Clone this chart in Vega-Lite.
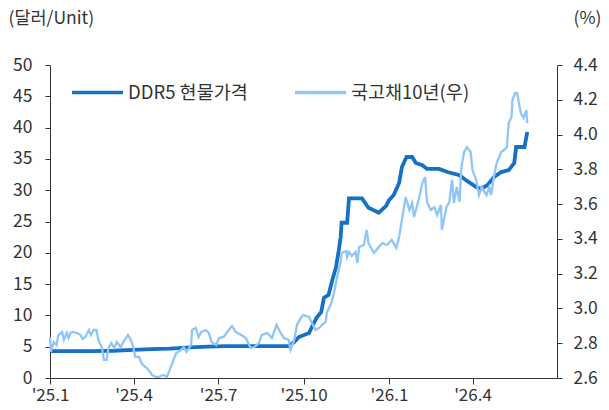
{
  "$schema": "https://vega.github.io/schema/vega-lite/v6.json",
  "width": 507,
  "height": 313,
  "autosize": "none",
  "padding": {"left": 50, "top": 65, "right": 52, "bottom": 32},
  "background": "white",
  "config": {
    "view": {"stroke": null},
    "font": "Noto Sans CJK KR",
    "axis": {"grid": false, "domainColor": "#333", "tickColor": "#333", "labelColor": "#333", "titleColor": "#333", "labelFont": "Noto Sans CJK KR", "titleFont": "Noto Sans CJK KR"}
  },
  "data": {
    "values": [
      {"date": "2025-01-01", "series": "DDR5 현물가격", "value": 4.3},
      {"date": "2025-01-20", "series": "DDR5 현물가격", "value": 4.3},
      {"date": "2025-02-15", "series": "DDR5 현물가격", "value": 4.3},
      {"date": "2025-03-10", "series": "DDR5 현물가격", "value": 4.35},
      {"date": "2025-04-01", "series": "DDR5 현물가격", "value": 4.5},
      {"date": "2025-04-20", "series": "DDR5 현물가격", "value": 4.6},
      {"date": "2025-05-10", "series": "DDR5 현물가격", "value": 4.7},
      {"date": "2025-06-01", "series": "DDR5 현물가격", "value": 4.9},
      {"date": "2025-06-20", "series": "DDR5 현물가격", "value": 5.0},
      {"date": "2025-07-10", "series": "DDR5 현물가격", "value": 5.1},
      {"date": "2025-08-01", "series": "DDR5 현물가격", "value": 5.1},
      {"date": "2025-08-20", "series": "DDR5 현물가격", "value": 5.1},
      {"date": "2025-09-15", "series": "DDR5 현물가격", "value": 5.1},
      {"date": "2025-09-21", "series": "DDR5 현물가격", "value": 5.75},
      {"date": "2025-09-26", "series": "DDR5 현물가격", "value": 6.55},
      {"date": "2025-10-07", "series": "DDR5 현물가격", "value": 7.2},
      {"date": "2025-10-10", "series": "DDR5 현물가격", "value": 8.15},
      {"date": "2025-10-15", "series": "DDR5 현물가격", "value": 9.6},
      {"date": "2025-10-20", "series": "DDR5 현물가격", "value": 10.5},
      {"date": "2025-10-23", "series": "DDR5 현물가격", "value": 12.8},
      {"date": "2025-10-28", "series": "DDR5 현물가격", "value": 13.3},
      {"date": "2025-11-01", "series": "DDR5 현물가격", "value": 15.6},
      {"date": "2025-11-05", "series": "DDR5 현물가격", "value": 17.7},
      {"date": "2025-11-08", "series": "DDR5 현물가격", "value": 20.4},
      {"date": "2025-11-10", "series": "DDR5 현물가격", "value": 22.5},
      {"date": "2025-11-11", "series": "DDR5 현물가격", "value": 24.8},
      {"date": "2025-11-17", "series": "DDR5 현물가격", "value": 24.8},
      {"date": "2025-11-19", "series": "DDR5 현물가격", "value": 28.7},
      {"date": "2025-12-03", "series": "DDR5 현물가격", "value": 28.7},
      {"date": "2025-12-10", "series": "DDR5 현물가격", "value": 27.2},
      {"date": "2025-12-21", "series": "DDR5 현물가격", "value": 26.4},
      {"date": "2025-12-29", "series": "DDR5 현물가격", "value": 27.5},
      {"date": "2026-01-01", "series": "DDR5 현물가격", "value": 28.4},
      {"date": "2026-01-06", "series": "DDR5 현물가격", "value": 29.2},
      {"date": "2026-01-10", "series": "DDR5 현물가격", "value": 30.5},
      {"date": "2026-01-12", "series": "DDR5 현물가격", "value": 31.2},
      {"date": "2026-01-15", "series": "DDR5 현물가격", "value": 33.7},
      {"date": "2026-01-20", "series": "DDR5 현물가격", "value": 35.3},
      {"date": "2026-01-26", "series": "DDR5 현물가격", "value": 35.3},
      {"date": "2026-01-30", "series": "DDR5 현물가격", "value": 34.35},
      {"date": "2026-02-06", "series": "DDR5 현물가격", "value": 34.0},
      {"date": "2026-02-11", "series": "DDR5 현물가격", "value": 33.4},
      {"date": "2026-02-24", "series": "DDR5 현물가격", "value": 33.4},
      {"date": "2026-03-05", "series": "DDR5 현물가격", "value": 32.9},
      {"date": "2026-03-18", "series": "DDR5 현물가격", "value": 32.4},
      {"date": "2026-03-25", "series": "DDR5 현물가격", "value": 31.6},
      {"date": "2026-04-05", "series": "DDR5 현물가격", "value": 30.5},
      {"date": "2026-04-10", "series": "DDR5 현물가격", "value": 30.2},
      {"date": "2026-04-17", "series": "DDR5 현물가격", "value": 30.8},
      {"date": "2026-04-24", "series": "DDR5 현물가격", "value": 32.1},
      {"date": "2026-05-02", "series": "DDR5 현물가격", "value": 32.9},
      {"date": "2026-05-10", "series": "DDR5 현물가격", "value": 33.2},
      {"date": "2026-05-16", "series": "DDR5 현물가격", "value": 34.35},
      {"date": "2026-05-18", "series": "DDR5 현물가격", "value": 36.9},
      {"date": "2026-05-27", "series": "DDR5 현물가격", "value": 36.9},
      {"date": "2026-05-30", "series": "DDR5 현물가격", "value": 39.3},

      {"date": "2025-01-01", "series": "국고채10년(우)", "value": 2.836},
      {"date": "2025-01-02", "series": "국고채10년(우)", "value": 2.75},
      {"date": "2025-01-05", "series": "국고채10년(우)", "value": 2.807},
      {"date": "2025-01-08", "series": "국고채10년(우)", "value": 2.79},
      {"date": "2025-01-10", "series": "국고채10년(우)", "value": 2.847},
      {"date": "2025-01-14", "series": "국고채10년(우)", "value": 2.865},
      {"date": "2025-01-16", "series": "국고채10년(우)", "value": 2.819},
      {"date": "2025-01-19", "series": "국고채10년(우)", "value": 2.859},
      {"date": "2025-01-21", "series": "국고채10년(우)", "value": 2.83},
      {"date": "2025-01-23", "series": "국고채10년(우)", "value": 2.859},
      {"date": "2025-01-26", "series": "국고채10년(우)", "value": 2.865},
      {"date": "2025-01-30", "series": "국고채10년(우)", "value": 2.859},
      {"date": "2025-02-03", "series": "국고채10년(우)", "value": 2.847},
      {"date": "2025-02-05", "series": "국고채10년(우)", "value": 2.824},
      {"date": "2025-02-08", "series": "국고채10년(우)", "value": 2.836},
      {"date": "2025-02-12", "series": "국고채10년(우)", "value": 2.876},
      {"date": "2025-02-14", "series": "국고채10년(우)", "value": 2.847},
      {"date": "2025-02-17", "series": "국고채10년(우)", "value": 2.876},
      {"date": "2025-02-20", "series": "국고채10년(우)", "value": 2.876},
      {"date": "2025-02-22", "series": "국고채10년(우)", "value": 2.819},
      {"date": "2025-02-26", "series": "국고채10년(우)", "value": 2.773},
      {"date": "2025-02-28", "series": "국고채10년(우)", "value": 2.704},
      {"date": "2025-03-03", "series": "국고채10년(우)", "value": 2.704},
      {"date": "2025-03-05", "series": "국고채10년(우)", "value": 2.773},
      {"date": "2025-03-08", "series": "국고채10년(우)", "value": 2.801},
      {"date": "2025-03-11", "series": "국고채10년(우)", "value": 2.773},
      {"date": "2025-03-14", "series": "국고채10년(우)", "value": 2.807},
      {"date": "2025-03-18", "series": "국고채10년(우)", "value": 2.778},
      {"date": "2025-03-21", "series": "국고채10년(우)", "value": 2.807},
      {"date": "2025-03-26", "series": "국고채10년(우)", "value": 2.847},
      {"date": "2025-03-29", "series": "국고채10년(우)", "value": 2.819},
      {"date": "2025-03-31", "series": "국고채10년(우)", "value": 2.79},
      {"date": "2025-04-03", "series": "국고채10년(우)", "value": 2.721},
      {"date": "2025-04-07", "series": "국고채10년(우)", "value": 2.721},
      {"date": "2025-04-09", "series": "국고채10년(우)", "value": 2.692},
      {"date": "2025-04-11", "series": "국고채10년(우)", "value": 2.675},
      {"date": "2025-04-14", "series": "국고채10년(우)", "value": 2.663},
      {"date": "2025-04-17", "series": "국고채10년(우)", "value": 2.646},
      {"date": "2025-04-21", "series": "국고채10년(우)", "value": 2.617},
      {"date": "2025-04-25", "series": "국고채10년(우)", "value": 2.606},
      {"date": "2025-04-28", "series": "국고채10년(우)", "value": 2.606},
      {"date": "2025-05-03", "series": "국고채10년(우)", "value": 2.617},
      {"date": "2025-05-07", "series": "국고채10년(우)", "value": 2.606},
      {"date": "2025-05-11", "series": "국고채10년(우)", "value": 2.663},
      {"date": "2025-05-14", "series": "국고채10년(우)", "value": 2.704},
      {"date": "2025-05-17", "series": "국고채10년(우)", "value": 2.744},
      {"date": "2025-05-22", "series": "국고채10년(우)", "value": 2.761},
      {"date": "2025-05-25", "series": "국고채10년(우)", "value": 2.778},
      {"date": "2025-05-28", "series": "국고채10년(우)", "value": 2.75},
      {"date": "2025-06-02", "series": "국고채10년(우)", "value": 2.79},
      {"date": "2025-06-03", "series": "국고채10년(우)", "value": 2.876},
      {"date": "2025-06-07", "series": "국고채10년(우)", "value": 2.888},
      {"date": "2025-06-10", "series": "국고채10년(우)", "value": 2.836},
      {"date": "2025-06-13", "series": "국고채10년(우)", "value": 2.865},
      {"date": "2025-06-18", "series": "국고채10년(우)", "value": 2.876},
      {"date": "2025-06-21", "series": "국고채10년(우)", "value": 2.859},
      {"date": "2025-06-24", "series": "국고채10년(우)", "value": 2.807},
      {"date": "2025-06-29", "series": "국고채10년(우)", "value": 2.79},
      {"date": "2025-07-02", "series": "국고채10년(우)", "value": 2.83},
      {"date": "2025-07-07", "series": "국고채10년(우)", "value": 2.836},
      {"date": "2025-07-10", "series": "국고채10년(우)", "value": 2.859},
      {"date": "2025-07-16", "series": "국고채10년(우)", "value": 2.899},
      {"date": "2025-07-20", "series": "국고채10년(우)", "value": 2.865},
      {"date": "2025-07-26", "series": "국고채10년(우)", "value": 2.847},
      {"date": "2025-07-31", "series": "국고채10년(우)", "value": 2.83},
      {"date": "2025-08-05", "series": "국고채10년(우)", "value": 2.773},
      {"date": "2025-08-09", "series": "국고채10년(우)", "value": 2.778},
      {"date": "2025-08-14", "series": "국고채10년(우)", "value": 2.801},
      {"date": "2025-08-17", "series": "국고채10년(우)", "value": 2.847},
      {"date": "2025-08-23", "series": "국고채10년(우)", "value": 2.859},
      {"date": "2025-08-28", "series": "국고채10년(우)", "value": 2.83},
      {"date": "2025-09-02", "series": "국고채10년(우)", "value": 2.905},
      {"date": "2025-09-07", "series": "국고채10년(우)", "value": 2.853},
      {"date": "2025-09-10", "series": "국고채10년(우)", "value": 2.83},
      {"date": "2025-09-15", "series": "국고채10년(우)", "value": 2.819},
      {"date": "2025-09-17", "series": "국고채10년(우)", "value": 2.761},
      {"date": "2025-09-21", "series": "국고채10년(우)", "value": 2.819},
      {"date": "2025-09-24", "series": "국고채10년(우)", "value": 2.905},
      {"date": "2025-09-28", "series": "국고채10년(우)", "value": 2.945},
      {"date": "2025-10-01", "series": "국고채10년(우)", "value": 2.962},
      {"date": "2025-10-07", "series": "국고채10년(우)", "value": 2.951},
      {"date": "2025-10-10", "series": "국고채10년(우)", "value": 2.916},
      {"date": "2025-10-14", "series": "국고채10년(우)", "value": 2.876},
      {"date": "2025-10-18", "series": "국고채10년(우)", "value": 2.888},
      {"date": "2025-10-21", "series": "국고채10년(우)", "value": 2.905},
      {"date": "2025-10-25", "series": "국고채10년(우)", "value": 2.922},
      {"date": "2025-10-26", "series": "국고채10년(우)", "value": 2.974},
      {"date": "2025-10-31", "series": "국고채10년(우)", "value": 3.031},
      {"date": "2025-11-03", "series": "국고채10년(우)", "value": 3.095},
      {"date": "2025-11-06", "series": "국고채10년(우)", "value": 3.175},
      {"date": "2025-11-10", "series": "국고채10년(우)", "value": 3.267},
      {"date": "2025-11-11", "series": "국고채10년(우)", "value": 3.319},
      {"date": "2025-11-16", "series": "국고채10년(우)", "value": 3.33},
      {"date": "2025-11-17", "series": "국고채10년(우)", "value": 3.296},
      {"date": "2025-11-19", "series": "국고채10년(우)", "value": 3.325},
      {"date": "2025-11-22", "series": "국고채10년(우)", "value": 3.302},
      {"date": "2025-11-26", "series": "국고채10년(우)", "value": 3.325},
      {"date": "2025-11-28", "series": "국고채10년(우)", "value": 3.261},
      {"date": "2025-11-30", "series": "국고채10년(우)", "value": 3.353},
      {"date": "2025-12-05", "series": "국고채10년(우)", "value": 3.365},
      {"date": "2025-12-08", "series": "국고채10년(우)", "value": 3.451},
      {"date": "2025-12-10", "series": "국고채10년(우)", "value": 3.376},
      {"date": "2025-12-16", "series": "국고채10년(우)", "value": 3.319},
      {"date": "2025-12-21", "series": "국고채10년(우)", "value": 3.353},
      {"date": "2025-12-25", "series": "국고채10년(우)", "value": 3.376},
      {"date": "2025-12-30", "series": "국고채10년(우)", "value": 3.365},
      {"date": "2026-01-04", "series": "국고채10년(우)", "value": 3.394},
      {"date": "2026-01-09", "series": "국고채10년(우)", "value": 3.348},
      {"date": "2026-01-12", "series": "국고채10년(우)", "value": 3.411},
      {"date": "2026-01-15", "series": "국고채10년(우)", "value": 3.509},
      {"date": "2026-01-19", "series": "국고채10년(우)", "value": 3.641},
      {"date": "2026-01-23", "series": "국고채10년(우)", "value": 3.566},
      {"date": "2026-01-26", "series": "국고채10년(우)", "value": 3.606},
      {"date": "2026-01-28", "series": "국고채10년(우)", "value": 3.526},
      {"date": "2026-02-02", "series": "국고채10년(우)", "value": 3.624},
      {"date": "2026-02-06", "series": "국고채10년(우)", "value": 3.721},
      {"date": "2026-02-09", "series": "국고채10년(우)", "value": 3.756},
      {"date": "2026-02-11", "series": "국고채10년(우)", "value": 3.612},
      {"date": "2026-02-15", "series": "국고채10년(우)", "value": 3.566},
      {"date": "2026-02-19", "series": "국고채10년(우)", "value": 3.583},
      {"date": "2026-02-22", "series": "국고채10년(우)", "value": 3.537},
      {"date": "2026-02-26", "series": "국고채10년(우)", "value": 3.595},
      {"date": "2026-02-27", "series": "국고채10년(우)", "value": 3.451},
      {"date": "2026-03-04", "series": "국고채10년(우)", "value": 3.583},
      {"date": "2026-03-07", "series": "국고채10년(우)", "value": 3.612},
      {"date": "2026-03-10", "series": "국고채10년(우)", "value": 3.739},
      {"date": "2026-03-12", "series": "국고채10년(우)", "value": 3.606},
      {"date": "2026-03-15", "series": "국고채10년(우)", "value": 3.698},
      {"date": "2026-03-18", "series": "국고채10년(우)", "value": 3.612},
      {"date": "2026-03-20", "series": "국고채10년(우)", "value": 3.813},
      {"date": "2026-03-23", "series": "국고채10년(우)", "value": 3.9},
      {"date": "2026-03-26", "series": "국고채10년(우)", "value": 3.928},
      {"date": "2026-03-30", "series": "국고채10년(우)", "value": 3.9},
      {"date": "2026-04-01", "series": "국고채10년(우)", "value": 3.796},
      {"date": "2026-04-05", "series": "국고채10년(우)", "value": 3.739},
      {"date": "2026-04-08", "series": "국고채10년(우)", "value": 3.652},
      {"date": "2026-04-11", "series": "국고채10년(우)", "value": 3.698},
      {"date": "2026-04-16", "series": "국고채10년(우)", "value": 3.652},
      {"date": "2026-04-19", "series": "국고채10년(우)", "value": 3.698},
      {"date": "2026-04-21", "series": "국고채10년(우)", "value": 3.652},
      {"date": "2026-04-24", "series": "국고채10년(우)", "value": 3.756},
      {"date": "2026-04-27", "series": "국고채10년(우)", "value": 3.836},
      {"date": "2026-05-02", "series": "국고채10년(우)", "value": 3.9},
      {"date": "2026-05-05", "series": "국고채10년(우)", "value": 3.911},
      {"date": "2026-05-08", "series": "국고채10년(우)", "value": 3.928},
      {"date": "2026-05-10", "series": "국고채10년(우)", "value": 4.066},
      {"date": "2026-05-13", "series": "국고채10년(우)", "value": 4.101},
      {"date": "2026-05-14", "series": "국고채10년(우)", "value": 4.199},
      {"date": "2026-05-17", "series": "국고채10년(우)", "value": 4.239},
      {"date": "2026-05-19", "series": "국고채10년(우)", "value": 4.239},
      {"date": "2026-05-21", "series": "국고채10년(우)", "value": 4.181},
      {"date": "2026-05-23", "series": "국고채10년(우)", "value": 4.124},
      {"date": "2026-05-26", "series": "국고채10년(우)", "value": 4.095},
      {"date": "2026-05-29", "series": "국고채10년(우)", "value": 4.141},
      {"date": "2026-05-30", "series": "국고채10년(우)", "value": 4.066}
    ]
  },
  "encoding": {
    "x": {
      "field": "date",
      "type": "temporal",
      "scale": {"type": "utc", "domain": [{"year": 2025, "month": 1, "date": 1, "utc": true}, {"year": 2026, "month": 7, "date": 1, "utc": true}]},
      "axis": {
        "title": null,
        "values": [
          {"year": 2025, "month": 1, "date": 1, "utc": true},
          {"year": 2025, "month": 4, "date": 1, "utc": true},
          {"year": 2025, "month": 7, "date": 1, "utc": true},
          {"year": 2025, "month": 10, "date": 1, "utc": true},
          {"year": 2026, "month": 1, "date": 1, "utc": true},
          {"year": 2026, "month": 4, "date": 1, "utc": true}
        ],
        "labelExpr": "\"'\" + utcFormat(datum.value, '%y') + '.' + (utcmonth(datum.value) + 1)",
        "labelAlign": "center",
        "tickSize": 6,
        "labelFontSize": 17,
        "labelPadding": 3,
        "labelFlush": false,
        "labelOverlap": false
      }
    },
    "color": {
      "field": "series",
      "type": "nominal",
      "scale": {"domain": ["DDR5 현물가격", "국고채10년(우)"], "range": ["#1570c6", "#8fc5f7"]},
      "legend": {
        "title": null,
        "orient": "none",
        "legendX": 20,
        "legendY": 0,
        "direction": "horizontal",
        "symbolType": "stroke",
        "symbolSize": 2600,
        "symbolStrokeWidth": 3.5,
        "labelFontSize": 18.5,
        "labelColor": "#333",
        "labelFont": "Noto Sans CJK KR",
        "labelOffset": 3,
        "columnPadding": 40
      }
    }
  },
  "layer": [
    {
      "transform": [{"filter": "datum.series === 'DDR5 현물가격'"}],
      "mark": {"type": "line", "strokeWidth": 3.8},
      "encoding": {
        "y": {
          "field": "value",
          "type": "quantitative",
          "scale": {"domain": [0, 50], "nice": false},
          "axis": {
            "orient": "left",
            "values": [0, 5, 10, 15, 20, 25, 30, 35, 40, 45, 50],
            "tickSize": 5,
            "labelPadding": 13,
            "labelFontSize": 17.5,
            "title": "(달러/Unit)",
            "titleAngle": 0,
            "titleX": -42,
            "titleY": -47,
            "titleAlign": "left",
            "titleBaseline": "middle",
            "titleFontSize": 17.5,
            "titleFontWeight": "normal"
          }
        }
      }
    },
    {
      "transform": [{"filter": "datum.series === '국고채10년(우)'"}],
      "mark": {"type": "line", "strokeWidth": 2.3},
      "encoding": {
        "y": {
          "field": "value",
          "type": "quantitative",
          "scale": {"domain": [2.6, 4.4], "nice": false, "zero": false},
          "axis": {
            "orient": "right",
            "values": [2.6, 2.8, 3.0, 3.2, 3.4, 3.6, 3.8, 4.0, 4.2, 4.4],
            "format": ".1f",
            "tickSize": 5,
            "labelPadding": 11,
            "labelFontSize": 17.5,
            "title": "(%)",
            "titleAngle": 0,
            "titleX": 16,
            "titleY": -47,
            "titleAlign": "left",
            "titleBaseline": "middle",
            "titleFontSize": 17.5,
            "titleFontWeight": "normal"
          }
        }
      }
    }
  ],
  "resolve": {"scale": {"y": "independent"}}
}
